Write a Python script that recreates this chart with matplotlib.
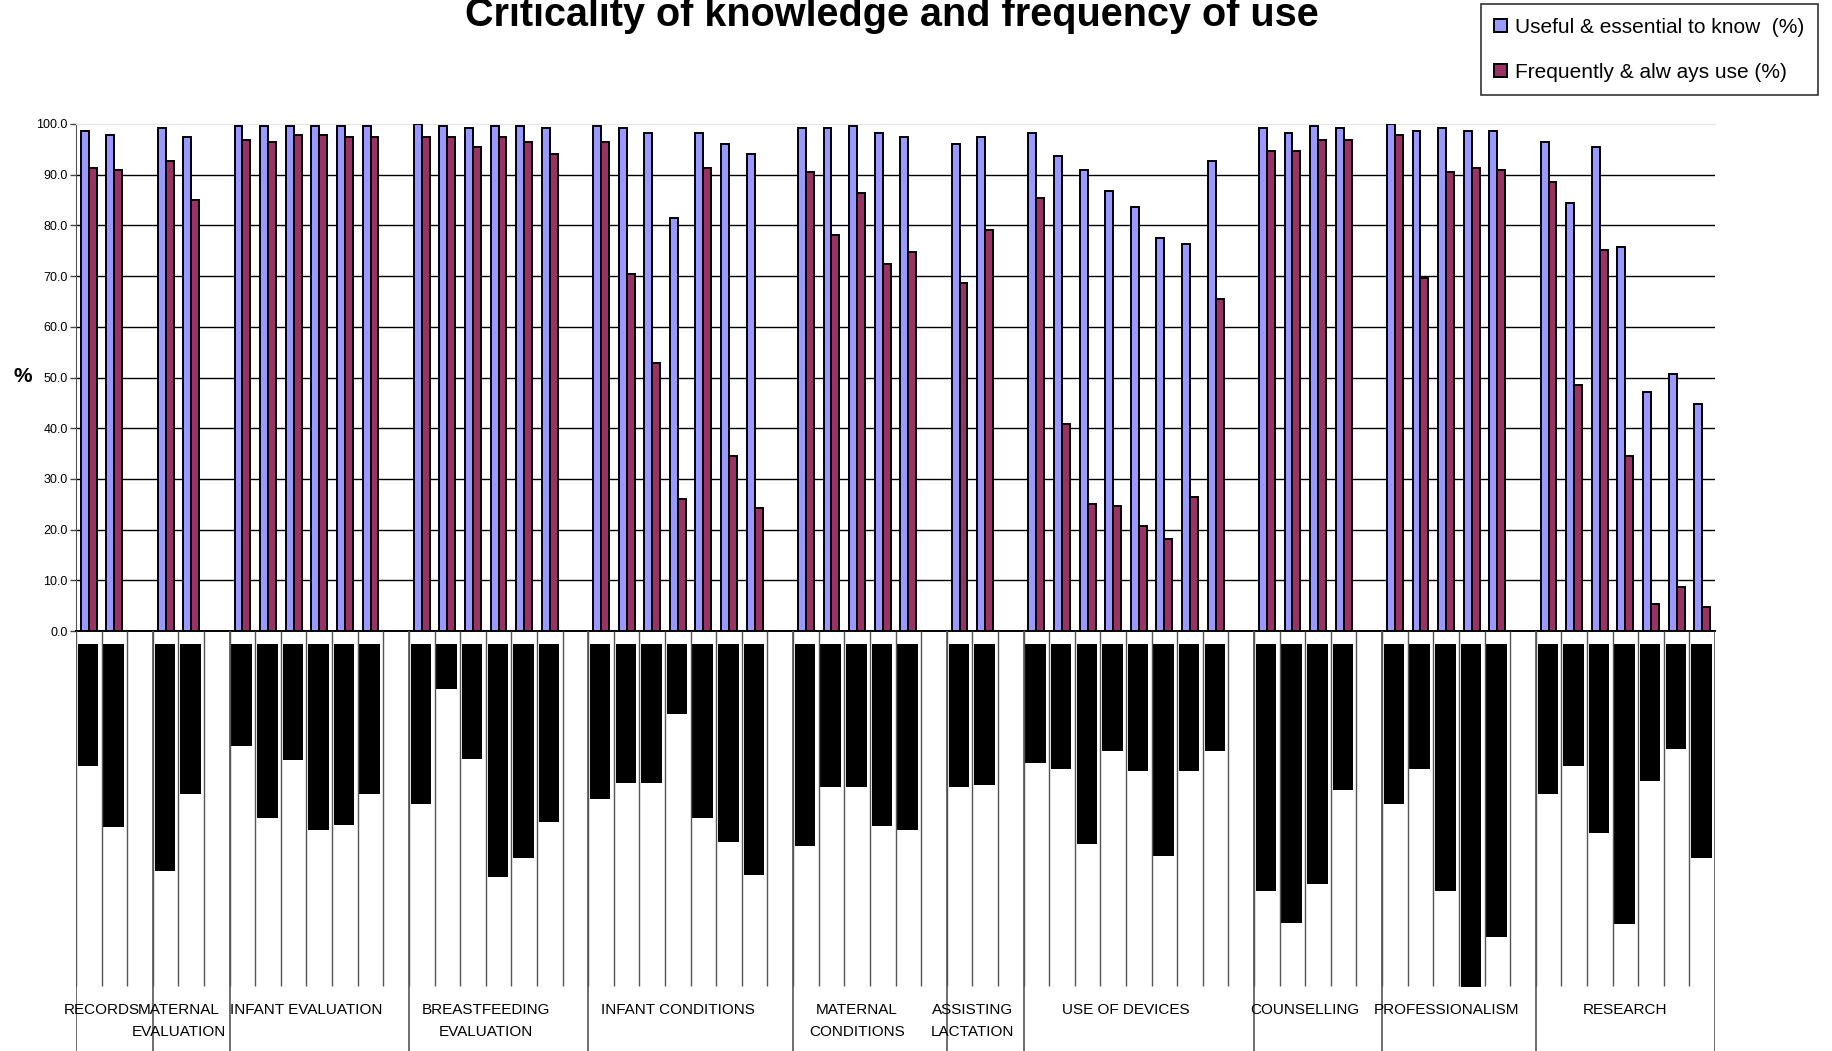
import matplotlib
matplotlib.use("Agg")
import matplotlib.pyplot as plt
import numpy as np

# category groups along the x axis (one empty slot after each group except the last)
group_names = ["RECORDS", "MATERNAL\nEVALUATION", "INFANT EVALUATION",
               "BREASTFEEDING\nEVALUATION", "INFANT CONDITIONS", "MATERNAL\nCONDITIONS",
               "ASSISTING\nLACTATION", "USE OF DEVICES", "COUNSELLING",
               "PROFESSIONALISM", "RESEARCH"]
group_sizes = [2, 2, 6, 6, 7, 5, 2, 8, 4, 5, 7]

# Useful & essential to know (%)
useful = [98.7, 97.8,
          99.2, 97.4,
          99.6, 99.6, 99.6, 99.6, 99.6, 99.6,
          100.0, 99.6, 99.2, 99.6, 99.6, 99.2,
          99.6, 99.2, 98.3, 81.4, 98.3, 96.0, 94.1,
          99.2, 99.2, 99.6, 98.3, 97.4,
          96.0, 97.4,
          98.3, 93.6, 91.0, 86.8, 83.6, 77.6, 76.3, 92.8,
          99.2, 98.3, 99.6, 99.2,
          100.0, 98.6, 99.2, 98.6, 98.6,
          96.4, 84.5, 95.4, 75.8, 47.2, 50.6, 44.8]

# Frequently & always use (%)
frequent = [91.4, 90.9,
            92.8, 85.0,
            96.9, 96.4, 97.9, 97.9, 97.4, 97.4,
            97.4, 97.4, 95.5, 97.4, 96.5, 94.1,
            96.5, 70.5, 52.9, 26.1, 91.4, 34.5, 24.2,
            90.5, 78.1, 86.4, 72.4, 74.7,
            68.7, 79.1,
            85.5, 40.9, 25.0, 24.6, 20.8, 18.1, 26.4, 65.4,
            94.6, 94.6, 96.9, 96.9,
            97.8, 69.6, 90.5, 91.4, 91.0,
            88.6, 48.6, 75.2, 34.5, 5.3, 8.6, 4.8]

# item labels came out as solid black blocks; their lengths (px below the axis)
label_len = [122, 183,
             227, 150,
             102, 174, 116, 186, 181, 150,
             160, 45, 115, 233, 214, 178,
             155, 139, 139, 70, 174, 198, 231,
             202, 143, 143, 182, 186,
             143, 141,
             119, 125, 200, 107, 127, 212, 127, 107,
             247, 279, 240, 146,
             160, 125, 247, 343, 293,
             150, 122, 189, 280, 137, 105, 214]

BLUE = "#9999ff"
PLUM = "#993366"
SANS = ["Liberation Sans", "DejaVu Sans"]

# slot index for each item, plus group boundaries
slots, bounds = [], [0]
pos = 0
for k, n in enumerate(group_sizes):
    slots.extend(range(pos, pos + n))
    pos += n
    if k < len(group_sizes) - 1:
        pos += 1
    bounds.append(pos)
nslots = pos
slots = np.array(slots)

W, H = 1832, 1051
fig = plt.figure(figsize=(W / 100, H / 100), dpi=100)
fig.patch.set_facecolor("white")

ax_l, ax_r, ax_t, ax_b = 76, 1715, 124, 631
ax = fig.add_axes([ax_l / W, 1 - ax_b / H, (ax_r - ax_l) / W, (ax_b - ax_t) / H])
bw = 0.31
b1 = ax.bar(slots + 0.5 - bw / 2, useful, width=bw, color=BLUE, edgecolor="black",
            linewidth=1.4, zorder=3, label="Useful & essential to know  (%)")
b2 = ax.bar(slots + 0.5 + bw / 2, frequent, width=bw, color=PLUM, edgecolor="black",
            linewidth=1.4, zorder=3, label="Frequently & alw ays use (%)")
ax.set_xlim(0, nslots)
ax.set_ylim(0, 100)
for v in range(10, 100, 10):
    ax.axhline(v, color="black", lw=1.0, zorder=1)
ax.set_xticks([])
ax.set_yticks(np.arange(0, 101, 10))
ax.set_yticklabels([f"{v:.1f}" for v in range(0, 101, 10)], family=SANS, fontsize=9)
ax.tick_params(axis="y", length=4, width=1, color="#444444", pad=2)
ax.spines["right"].set_visible(False)
ax.spines["top"].set_color("#e6e6e6")
ax.spines["left"].set_color("#555555")
ax.spines["bottom"].set_color("black")
ax.spines["bottom"].set_linewidth(1.4)
ax.spines["bottom"].set_zorder(4)

# lower multi-level category area
low_h = H - ax_b
ax2 = fig.add_axes([ax_l / W, 0, (ax_r - ax_l) / W, low_h / H])
ax2.set_xlim(0, nslots)
ax2.set_ylim(low_h, 0)
ax2.axis("off")
ax2.bar(slots + 0.07, label_len, width=0.8, bottom=13, align="edge",
        color="black", linewidth=0)
ax2.vlines(np.arange(nslots + 1), 0, 355, color="#555555", lw=1)
ax2.vlines(bounds, 0, low_h, color="#555555", lw=1.2)
for k, name in enumerate(group_names):
    cx = bounds[k] + group_sizes[k] / 2
    ax2.text(cx, 372, name, ha="center", va="top", family=SANS,
             fontsize=11, linespacing=1.7)

fig.text(892 / W, 1 - 26 / H, "Criticality of knowledge and frequency of use",
         ha="center", va="baseline", fontsize=28.5, weight="bold", family=SANS)
fig.text(23 / W, 1 - 376 / H, "%", ha="center", va="center", fontsize=15,
         weight="bold", family=SANS)

leg = fig.legend(handles=[b1, b2], loc="upper right",
                 bbox_to_anchor=(1818 / W, 1 - 4 / H), frameon=True, fancybox=False,
                 edgecolor="black", handlelength=0.6, handleheight=0.6,
                 handletextpad=0.4, labelspacing=1.25, borderpad=0.65,
                 borderaxespad=0, prop={"family": SANS, "size": 15})
leg.get_frame().set_linewidth(1.2)

fig.savefig("out.png", dpi=100)
